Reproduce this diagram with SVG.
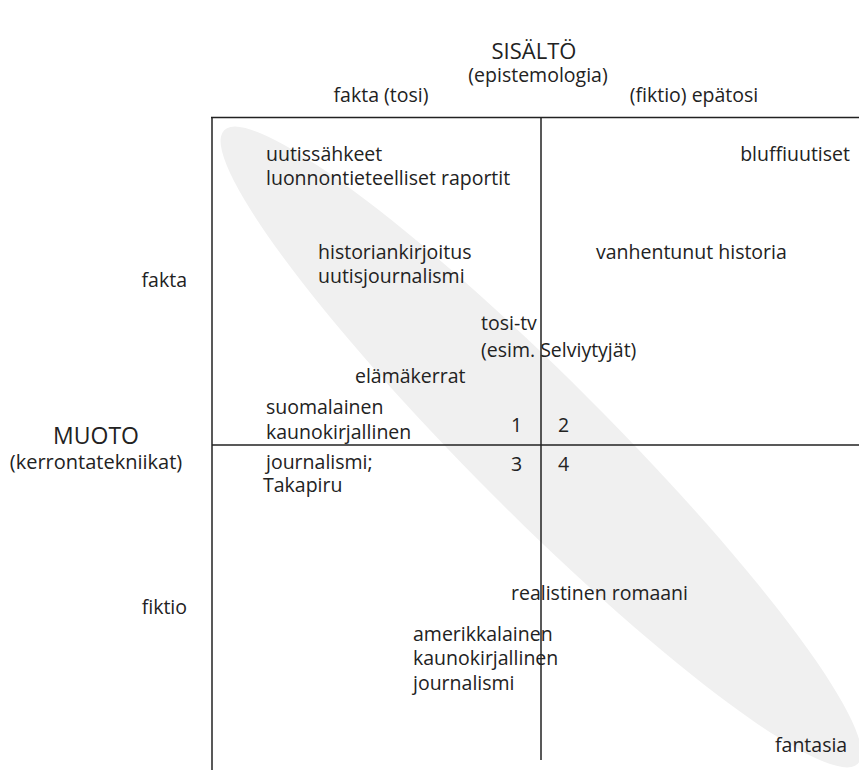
<svg xmlns="http://www.w3.org/2000/svg" width="859" height="770" viewBox="0 0 859 770">
<style>
text{font-family:"Open Sans","Noto Sans",sans-serif;font-size:19.5px;fill:#222}
.h{font-size:22px}
.hm{font-size:23px}
.sm{font-size:20px}
.m{text-anchor:middle}
.e{text-anchor:end}
.ln{stroke:#222;stroke-width:1.5;fill:none}
</style>
<rect width="859" height="770" fill="#fff"/>
<ellipse cx="541" cy="447" rx="448" ry="68" fill="#f0f0f0" transform="rotate(45 541 447)"/>
<g id="connectors">
<line class="ln" x1="211" y1="117.5" x2="859" y2="117.5"/>
<line class="ln" x1="212" y1="117" x2="212" y2="770"/>
<line class="ln" x1="541" y1="117" x2="541" y2="760"/>
<line class="ln" x1="212" y1="445" x2="859" y2="445"/>
</g>
<g id="axis-sisalto"><text class="h m" x="534" y="59">SISÄLTÖ</text><text class="m" x="538" y="82">(epistemologia)</text></g>
<g id="col-fakta"><text class="m" x="381" y="102">fakta (tosi)</text></g>
<g id="col-fiktio"><text class="m" x="694" y="102">(fiktio) epätosi</text></g>
<g id="axis-muoto"><text class="hm m" x="96" y="444">MUOTO</text><text class="sm m" x="96" y="469">(kerrontatekniikat)</text></g>
<g id="row-fakta"><text class="e" x="187" y="287">fakta</text></g>
<g id="row-fiktio"><text class="e" x="187" y="614">fiktio</text></g>
<g id="n-uutis"><text x="266" y="161">uutissähkeet</text><text x="266" y="185">luonnontieteelliset raportit</text></g>
<g id="n-bluffi"><text class="e" x="850" y="161">bluffiuutiset</text></g>
<g id="n-historia"><text x="318" y="259">historiankirjoitus</text><text x="318" y="283">uutisjournalismi</text></g>
<g id="n-vanh"><text x="596" y="259">vanhentunut historia</text></g>
<g id="n-tositv"><text x="481" y="330">tosi-tv</text><text x="481" y="357">(esim. Selviytyjät)</text></g>
<g id="n-elama"><text x="355" y="383">elämäkerrat</text></g>
<g id="n-suomi"><text x="266" y="414">suomalainen</text><text x="266" y="439">kaunokirjallinen</text><text x="266" y="469">journalismi;</text><text x="263" y="492">Takapiru</text></g>
<g id="q1"><text x="511" y="432">1</text></g>
<g id="q2"><text x="558" y="432">2</text></g>
<g id="q3"><text x="511" y="471">3</text></g>
<g id="q4"><text x="558" y="471">4</text></g>
<g id="n-real"><text x="511" y="600">realistinen romaani</text></g>
<g id="n-amer"><text x="413" y="641">amerikkalainen</text><text x="413" y="665">kaunokirjallinen</text><text x="413" y="690">journalismi</text></g>
<g id="n-fantasia"><text x="775" y="752">fantasia</text></g>
</svg>
